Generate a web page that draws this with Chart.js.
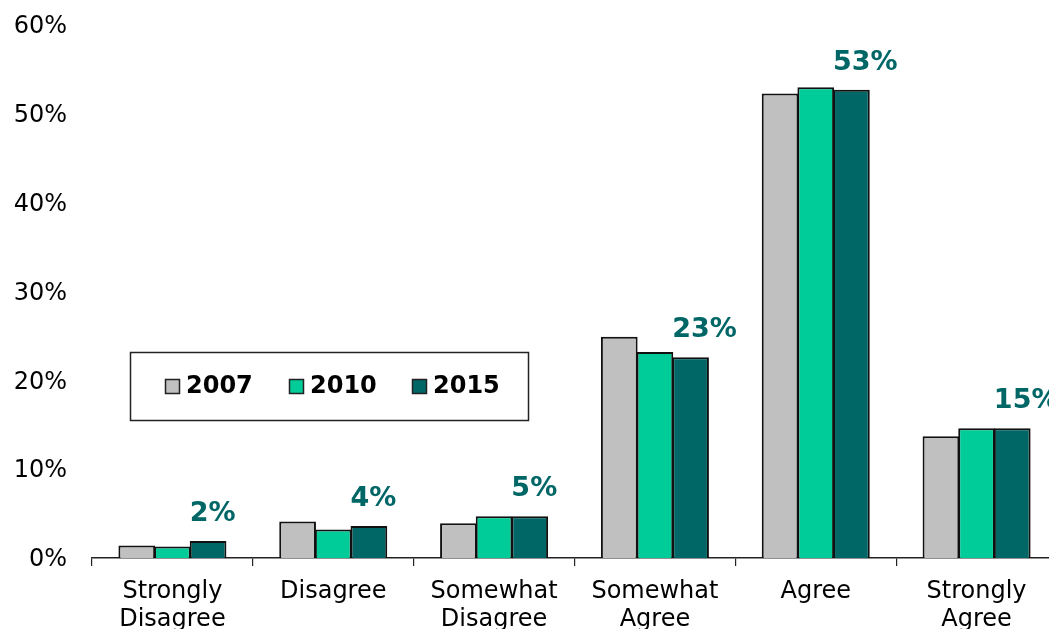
<!DOCTYPE html>
<html lang="en">
<head>
    <meta charset="UTF-8">
    <title>Survey responses 2007–2015</title>
    <script src="https://cdn.jsdelivr.net/npm/chart.js"></script>
    <style>
        body {
            margin: 0;
            padding: 0;
            background: #fff;
            overflow: hidden;
        }
        .chart-box {
            position: relative;
            width: 1060px;
            height: 629px;
        }
    </style>
</head>
<body>
    <div class="chart-box">
        <canvas id="surveyChart"></canvas>
    </div>

    <script>
        // Response categories (two-line labels)
        const categories = [
            ['Strongly', 'Disagree'],
            ['Disagree'],
            ['Somewhat', 'Disagree'],
            ['Somewhat', 'Agree'],
            ['Agree'],
            ['Strongly', 'Agree']
        ];

        // Share of respondents (%) per survey year
        const years = ['2007', '2010', '2015'];
        const share2007 = [1.4, 4.1, 3.9, 24.9, 52.3, 13.7];
        const share2010 = [1.3, 3.2, 4.7, 23.2, 53.0, 14.6];
        const share2015 = [1.9, 3.6, 4.7, 22.6, 52.7, 14.6];

        const yTicks = [0, 10, 20, 30, 40, 50, 60];

        const colors = ['#c0c0c0', '#00cc99', '#006666'];
        const FONT = "'DejaVu Sans', Verdana, sans-serif";

        // Value labels above the 2015 bars
        const latestLabels = {
            id: 'latestLabels',
            afterDatasetsDraw(chart) {
                const ctx = chart.ctx;
                const meta = chart.getDatasetMeta(2);
                const values = chart.data.datasets[2].data;
                ctx.save();
                ctx.font = 'bold 27px ' + FONT;
                ctx.fillStyle = '#006666';
                ctx.textAlign = 'left';
                ctx.textBaseline = 'middle';
                meta.data.forEach((bar, i) => {
                    ctx.fillText(Math.round(values[i]) + '%', bar.x - bar.width / 2, bar.y - 27);
                });
                ctx.restore();
            }
        };

        // Boxed legend inside the plot
        const boxLegend = {
            id: 'boxLegend',
            afterDraw(chart) {
                const ctx = chart.ctx;
                ctx.save();
                ctx.strokeStyle = '#222';
                ctx.lineWidth = 1.5;
                ctx.strokeRect(130.5, 352.5, 398, 68);
                ctx.font = 'bold 24px ' + FONT;
                ctx.textBaseline = 'middle';
                ctx.textAlign = 'left';
                const starts = [165, 289, 412];
                chart.data.datasets.forEach((ds, i) => {
                    const x = starts[i];
                    ctx.fillStyle = ds.backgroundColor;
                    ctx.fillRect(x, 379, 14, 14);
                    ctx.lineWidth = 1.5;
                    ctx.strokeRect(x + 0.5, 379.5, 14, 14);
                    ctx.fillStyle = '#000';
                    ctx.fillText(ds.label, x + 21, 387);
                });
                ctx.restore();
            }
        };

        const ctx = document.getElementById('surveyChart').getContext('2d');
        const surveyChart = new Chart(ctx, {
            type: 'bar',
            data: {
                labels: categories,
                datasets: [share2007, share2010, share2015].map((data, i) => ({
                    label: years[i],
                    data: data,
                    backgroundColor: colors[i],
                    borderColor: '#111',
                    borderWidth: 2,
                    categoryPercentage: 0.665,
                    barPercentage: 1.03
                }))
            },
            options: {
                responsive: true,
                maintainAspectRatio: false,
                animation: false,
                layout: {
                    padding: { top: 25, right: 3, bottom: 0, left: 0 }
                },
                plugins: {
                    legend: { display: false },
                    tooltip: { enabled: false }
                },
                scales: {
                    x: {
                        grid: {
                            display: true,
                            offset: true,
                            drawOnChartArea: false,
                            drawTicks: true,
                            tickLength: 8,
                            color: '#222',
                            lineWidth: 1.2
                        },
                        border: { display: true, color: '#222', width: 1.5 },
                        ticks: {
                            color: '#000',
                            padding: 11,
                            maxRotation: 0,
                            autoSkip: false,
                            font: { family: FONT, size: 24, lineHeight: 1.2 }
                        },
                        afterFit(scale) {
                            scale.height = 71;
                            scale.paddingLeft = 0;
                            scale.paddingRight = 0;
                        }
                    },
                    y: {
                        min: 0,
                        max: 60,
                        grid: { display: false, drawTicks: false },
                        border: { display: false },
                        afterBuildTicks(scale) {
                            scale.ticks = yTicks.map(v => ({ value: v }));
                        },
                        ticks: {
                            color: '#000',
                            padding: 25,
                            labelOffset: 2,
                            callback: v => v + '%',
                            font: { family: FONT, size: 24 }
                        },
                        afterFit(scale) {
                            scale.width = 92;
                            scale.paddingTop = 0;
                            scale.paddingBottom = 0;
                        }
                    }
                }
            },
            plugins: [latestLabels, boxLegend]
        });
    </script>
</body>
</html>
